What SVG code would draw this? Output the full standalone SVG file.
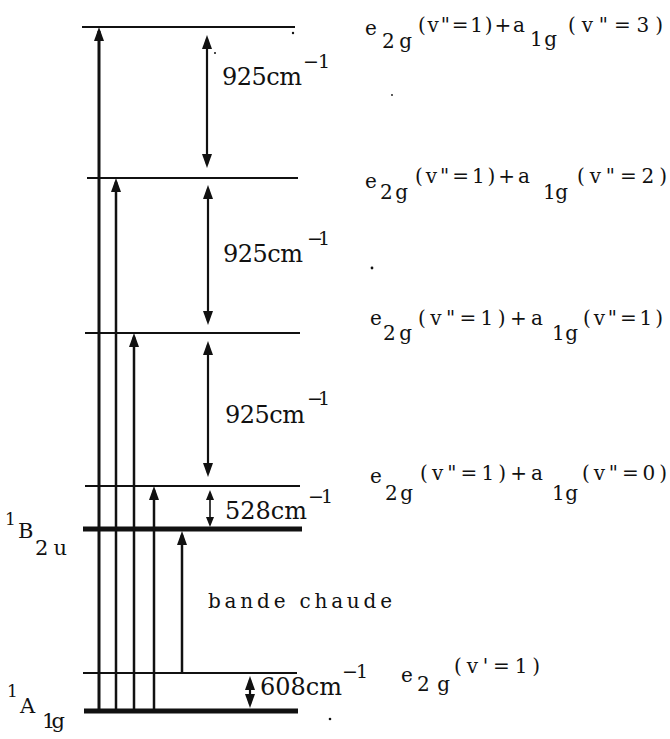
<svg xmlns="http://www.w3.org/2000/svg" width="670" height="739" viewBox="0 0 670 739" font-family="'DejaVu Serif', 'Liberation Serif', serif">
<style>
text{font-family:'DejaVu Serif','Liberation Serif',serif;fill:#111}
.lab{font-size:20px}
.num{font-size:24px}
.sup{font-size:19px}
.pre{font-size:17px}
.st{font-size:21px}
.lvl{stroke:#111;stroke-width:2;fill:none}
.bold{stroke:#111;stroke-width:5;fill:none}
.arr{stroke:#111;stroke-width:2.5;fill:none;marker-end:url(#ah)}
.dbl{stroke:#111;stroke-width:2.2;fill:none;marker-start:url(#ah);marker-end:url(#ah)}
.sm{stroke:#111;stroke-width:1.6;fill:none;marker-start:url(#as);marker-end:url(#as)}
</style>
<defs>
<marker id="ah" viewBox="0 0 14 10" refX="10" refY="5" markerWidth="14" markerHeight="10" markerUnits="userSpaceOnUse" orient="auto-start-reverse"><path d="M0,0 L14,5 L0,10 z" fill="#111"/></marker>
<marker id="as" viewBox="0 0 10 8" refX="7" refY="4" markerWidth="10" markerHeight="8" markerUnits="userSpaceOnUse" orient="auto-start-reverse"><path d="M0,0 L10,4 L0,8 z" fill="#111"/></marker>
</defs>
<rect width="670" height="739" fill="#fff"/>

<g id="level-v3">
<line class="lvl" x1="82" y1="27" x2="295" y2="27"/>
<text class="lab" x="365" y="35">e</text>
<text class="lab" x="382" y="48" textLength="30">2g</text>
<text class="lab" x="418" y="32" textLength="107">(v"=1)+a</text>
<text class="lab" x="530" y="46" textLength="27">1g</text>
<text class="lab" x="568" y="32" textLength="95">(v"=3)</text>
</g>
<g id="level-v2">
<line class="lvl" x1="87" y1="178" x2="298" y2="178"/>
<text class="lab" x="365" y="188">e</text>
<text class="lab" x="380" y="199" textLength="28">2g</text>
<text class="lab" x="415" y="183" textLength="115">(v"=1)+a</text>
<text class="lab" x="543" y="199" textLength="25">1g</text>
<text class="lab" x="577" y="183" textLength="90">(v"=2)</text>
</g>
<g id="level-v1">
<line class="lvl" x1="85" y1="333" x2="300" y2="333"/>
<text class="lab" x="370" y="325">e</text>
<text class="lab" x="383" y="340" textLength="29">2g</text>
<text class="lab" x="418" y="325" textLength="125">(v"=1)+a</text>
<text class="lab" x="552" y="340" textLength="26">1g</text>
<text class="lab" x="583" y="325" textLength="80">(v"=1)</text>
</g>
<g id="level-v0">
<line class="lvl" x1="85" y1="486" x2="300" y2="486"/>
<text class="lab" x="370" y="483">e</text>
<text class="lab" x="385" y="500" textLength="28">2g</text>
<text class="lab" x="420" y="480" textLength="123">(v"=1)+a</text>
<text class="lab" x="552" y="500" textLength="26">1g</text>
<text class="lab" x="582" y="480" textLength="85">(v"=0)</text>
</g>
<g id="level-B2u">
<line class="bold" x1="83" y1="529" x2="302" y2="529"/>
<text class="pre" x="5" y="525">1</text>
<text class="st" x="18" y="538">B</text>
<text class="st" x="35" y="555" textLength="32">2u</text>
</g>
<g id="level-e2g-v1">
<line class="lvl" x1="83" y1="673" x2="297" y2="673"/>
<text class="lab" x="401" y="682">e</text>
<text class="lab" x="417" y="691" textLength="33">2g</text>
<text class="lab" x="454" y="673" textLength="86">(v'=1)</text>
</g>
<g id="level-A1g">
<line class="bold" x1="84" y1="711" x2="298" y2="711"/>
<text class="pre" x="7" y="697">1</text>
<text class="st" x="20" y="713">A</text>
<text class="st" x="42" y="728" textLength="23">1g</text>
</g>

<g id="connectors">
<line class="arr" x1="99" y1="711" x2="99" y2="31" style="stroke-width:3"/>
<line class="arr" x1="116" y1="711" x2="116" y2="182"/>
<line class="arr" x1="134" y1="711" x2="134" y2="337"/>
<line class="arr" x1="154" y1="711" x2="154" y2="490"/>
<line class="arr" x1="182" y1="673" x2="182" y2="535"/>
<line class="dbl" x1="207" y1="39" x2="207" y2="164"/>
<line class="dbl" x1="208" y1="189" x2="208" y2="321"/>
<line class="dbl" x1="208" y1="345" x2="208" y2="473"/>
<line class="sm" x1="210" y1="493" x2="210" y2="524"/>
<line class="dbl" x1="250" y1="680" x2="250" y2="704"/>
</g>

<g id="connector-labels">
<text class="num" x="222" y="85" textLength="80">925cm</text>
<text class="sup" x="303" y="68" textLength="27">−1</text>
<text class="num" x="223" y="262" textLength="80">925cm</text>
<text class="sup" x="307" y="245" textLength="23">−1</text>
<text class="num" x="225" y="423" textLength="80">925cm</text>
<text class="sup" x="307" y="405" textLength="23">−1</text>
<text class="num" x="225" y="519" textLength="82">528cm</text>
<text class="sup" x="308" y="503" textLength="25">−1</text>
<text class="num" x="260" y="695" textLength="82">608cm</text>
<text class="sup" x="342" y="678" textLength="26">−1</text>
<text class="lab" x="208" y="608" textLength="184">bande chaude</text>
</g>

<g id="specks" fill="#111">
<circle cx="293" cy="33" r="1.2"/>
<circle cx="215" cy="53" r="1"/>
<circle cx="372" cy="268" r="1.4"/>
<circle cx="392" cy="95" r="0.9"/>
<circle cx="330" cy="719" r="1.3"/>
</g>
</svg>
